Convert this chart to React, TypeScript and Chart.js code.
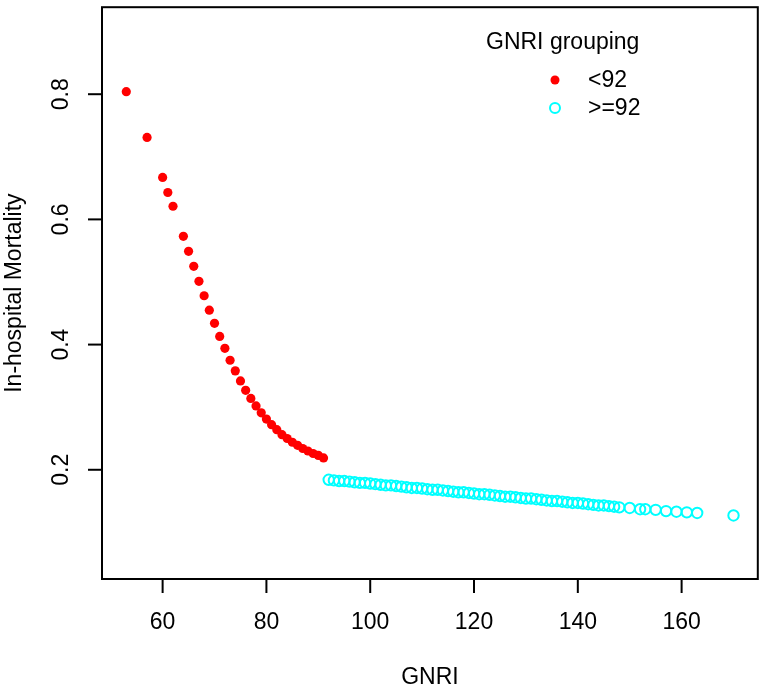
import { useEffect, useRef } from "react"
import { Chart, registerables } from "chart.js"

Chart.register(...registerables)

// GNRI < 92
const lowGnri = [53, 57, 60, 61, 62, 64, 65, 66, 67, 68, 69, 70, 71, 72, 73, 74, 75, 76, 77, 78, 79, 80, 81, 82, 83, 84, 85, 86, 87, 88, 89, 90, 91]
const lowMortality = [
  0.804, 0.731, 0.667, 0.643, 0.621, 0.573, 0.549, 0.525, 0.501, 0.478, 0.455, 0.434, 0.413, 0.394, 0.375, 0.358, 0.342,
  0.327, 0.314, 0.302, 0.291, 0.281, 0.272, 0.264, 0.256, 0.25, 0.244, 0.239, 0.234, 0.23, 0.226, 0.223, 0.219,
]

// GNRI >= 92
const highGnri = [
  92, 93, 94, 95, 96, 97, 98, 99, 100, 101, 102, 103, 104, 105, 106, 107, 108, 109, 110, 111, 112, 113, 114, 115, 116,
  117, 118, 119, 120, 121, 122, 123, 124, 125, 126, 127, 128, 129, 130, 131, 132, 133, 134, 135, 136, 137, 138, 139,
  140, 141, 142, 143, 144, 145, 146, 147, 148, 150, 152, 153, 155, 157, 159, 161, 163, 170,
]
const highMortality = [
  0.184, 0.183, 0.182, 0.182, 0.181, 0.18, 0.179, 0.179, 0.178, 0.177, 0.176, 0.175, 0.175, 0.174, 0.173, 0.172, 0.171,
  0.171, 0.17, 0.169, 0.168, 0.168, 0.167, 0.166, 0.165, 0.164, 0.164, 0.163, 0.162, 0.161, 0.161, 0.16, 0.159, 0.158,
  0.157, 0.157, 0.156, 0.155, 0.154, 0.154, 0.153, 0.152, 0.151, 0.15, 0.15, 0.149, 0.148, 0.147, 0.147, 0.146, 0.145,
  0.144, 0.143, 0.143, 0.142, 0.141, 0.14, 0.139, 0.137, 0.137, 0.136, 0.134, 0.133, 0.132, 0.131, 0.127,
]

const xTicks = [60, 80, 100, 120, 140, 160]
const yTicks = [0.2, 0.4, 0.6, 0.8]
const xTitle = "GNRI"
const yTitle = "In-hospital Mortality"
const legendTitle = "GNRI grouping"
const groupLabels = ["<92", ">=92"]

const RED = "#ff0000"
const CYAN = "#00ffff"
const FONT = '23px "Liberation Sans", Arial, sans-serif'

// R base-graphics style box, ticks, labels and legend
const baseAxes = {
  id: "baseAxes",
  afterDraw(chart: any) {
    const { ctx, chartArea: a, scales } = chart
    const xs = scales.x
    const ys = scales.y
    ctx.save()
    ctx.strokeStyle = "#000"
    ctx.lineWidth = 2
    ctx.strokeRect(a.left, a.top, a.right - a.left, a.bottom - a.top)

    ctx.fillStyle = "#000"
    ctx.font = FONT
    ctx.textAlign = "center"
    ctx.textBaseline = "middle"

    xTicks.forEach((v) => {
      const px = xs.getPixelForValue(v)
      ctx.beginPath()
      ctx.moveTo(px, a.bottom)
      ctx.lineTo(px, a.bottom + 14)
      ctx.stroke()
      ctx.fillText(String(v), px, 623)
    })

    yTicks.forEach((v) => {
      const py = ys.getPixelForValue(v)
      ctx.beginPath()
      ctx.moveTo(a.left - 14, py)
      ctx.lineTo(a.left, py)
      ctx.stroke()
      ctx.save()
      ctx.translate(62, py)
      ctx.rotate(-Math.PI / 2)
      ctx.fillText(v.toFixed(1), 0, 0)
      ctx.restore()
    })

    ctx.fillText(xTitle, (a.left + a.right) / 2, 678)
    ctx.save()
    ctx.translate(15, (a.top + a.bottom) / 2)
    ctx.rotate(-Math.PI / 2)
    ctx.fillText(yTitle, 0, 0)
    ctx.restore()

    // legend
    ctx.textAlign = "left"
    ctx.fillText(legendTitle, 486, 43)
    ctx.fillText(groupLabels[0], 588, 81)
    ctx.fillText(groupLabels[1], 588, 109)
    ctx.beginPath()
    ctx.arc(555, 80, 4.5, 0, Math.PI * 2)
    ctx.fillStyle = RED
    ctx.fill()
    ctx.beginPath()
    ctx.arc(555, 108, 5, 0, Math.PI * 2)
    ctx.strokeStyle = CYAN
    ctx.lineWidth = 2
    ctx.stroke()
    ctx.restore()
  },
}

export default function App() {
  const chartRef = useRef<HTMLCanvasElement>(null)
  const chartInstance = useRef<Chart | null>(null)

  useEffect(() => {
    if (!chartRef.current) return
    if (chartInstance.current) chartInstance.current.destroy()
    const ctx = chartRef.current.getContext("2d")
    if (!ctx) return

    chartInstance.current = new Chart(ctx, {
      type: "scatter",
      data: {
        datasets: [
          {
            label: groupLabels[0],
            data: lowGnri.map((g, i) => ({ x: g, y: lowMortality[i] })),
            backgroundColor: RED,
            borderColor: RED,
            pointRadius: 4.6,
            borderWidth: 0,
          },
          {
            label: groupLabels[1],
            data: highGnri.map((g, i) => ({ x: g, y: highMortality[i] })),
            backgroundColor: "rgba(0,0,0,0)",
            borderColor: CYAN,
            pointRadius: 5.2,
            borderWidth: 2,
          },
        ],
      },
      options: {
        animation: false,
        responsive: false,
        layout: { padding: { left: 102, top: 3, right: 7, bottom: 109 } },
        scales: {
          x: { type: "linear", min: 48.32, max: 174.68, display: false },
          y: { type: "linear", min: 0.0255, max: 0.939, display: false },
        },
        plugins: {
          legend: { display: false },
          tooltip: { enabled: false },
        },
      },
      plugins: [baseAxes],
    })

    return () => {
      if (chartInstance.current) {
        chartInstance.current.destroy()
        chartInstance.current = null
      }
    }
  }, [])

  return (
    <div style={{ position: "fixed", left: 0, top: 0, width: 765, height: 688, background: "#fff" }}>
      <canvas ref={chartRef} width={765} height={688} />
    </div>
  )
}
